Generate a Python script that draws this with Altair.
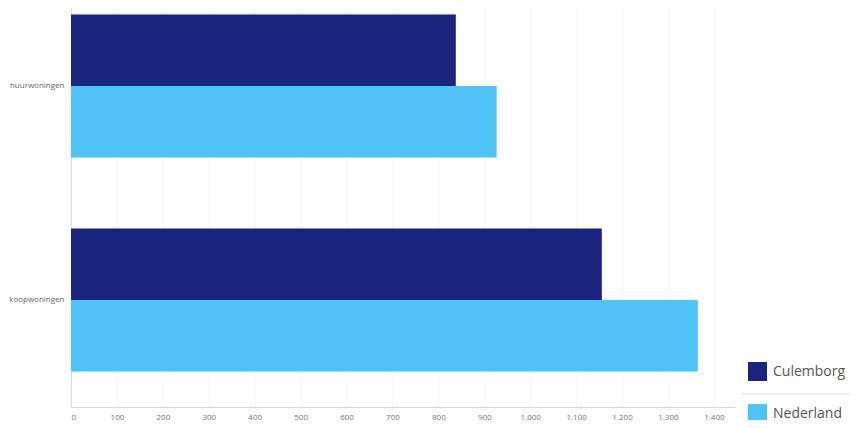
import altair as alt
import pandas as pd

categories = ["huurwoningen", "huurwoningen", "koopwoningen", "koopwoningen"]
series = ["Culemborg", "Nederland", "Culemborg", "Nederland"]
values = [838, 927, 1156, 1365]
tick_values = [0, 100, 200, 300, 400, 500, 600, 700, 800, 900, 1000, 1100, 1200, 1300, 1400]

df = pd.DataFrame({"woningtype": categories, "gebied": series, "m2": values})

bars = alt.Chart(df).mark_bar().encode(
    y=alt.Y("woningtype:N", title=None,
            scale=alt.Scale(paddingInner=0.332, paddingOuter=0.166),
            axis=alt.Axis(labelFontSize=8, labelColor="#666666", labelFont="Open Sans",
                          ticks=False, domainColor="#dddddd", labelPadding=7)),
    yOffset=alt.YOffset("gebied:N", scale=alt.Scale(paddingInner=0, paddingOuter=0)),
    x=alt.X("m2:Q", title="m²",
            scale=alt.Scale(domain=[0, 1446], nice=False),
            axis=alt.Axis(values=tick_values, labelFontSize=8, labelColor="#777777",
                          labelFont="Open Sans", ticks=False, domainColor="#c9dbe6",
                          gridColor="#f8f8f8", labelPadding=6,
                          labelExpr="replace(format(datum.value, ','), ',', '.')",
                          titleFontSize=9, titleColor="#777777", titleFontWeight="normal",
                          titlePadding=2, titleX=364)),
    color=alt.Color("gebied:N", title=None,
                    scale=alt.Scale(domain=["Culemborg", "Nederland"], range=["#1a237e", "#4fc3f7"]),
                    legend=alt.Legend(orient="none", legendX=677, legendY=383,
                                      symbolType="square", symbolSize=361, symbolStrokeWidth=0,
                                      symbolOpacity=1,
                                      labelFontSize=14, labelFont="Open Sans", labelColor="#555555",
                                      rowPadding=23, labelOffset=6)),
)

sep = alt.Chart(pd.DataFrame({"a": [0]})).mark_rule(color="#d5dde3", strokeWidth=1).encode(
    x=alt.value(671), x2=alt.value(790), y=alt.value(415)
)

chart = alt.layer(bars, sep).properties(
    width=664, height=428,
    autosize=alt.AutoSizeParams(type="none"),
    padding={"left": 63, "top": -29, "right": 115, "bottom": 13},
).configure_view(stroke=None)

chart.save("out.html", embed_options={"renderer": "svg", "actions": False})
